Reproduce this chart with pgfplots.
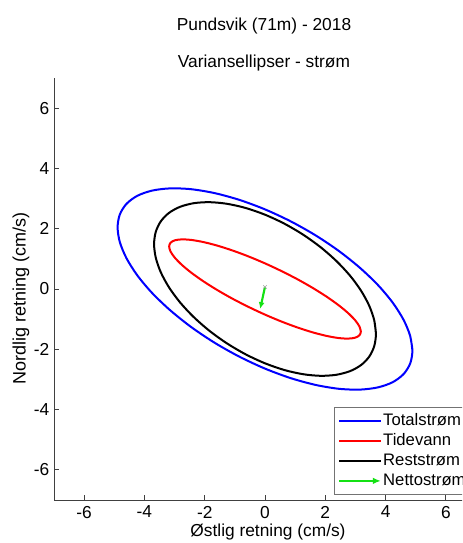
\documentclass[border=0pt]{standalone}
\usepackage{fontspec}
\setmainfont{Liberation Sans}
\usepackage{pgfplots}
\pgfplotsset{compat=1.18}
\usetikzlibrary{arrows.meta}
\definecolor{nettogreen}{RGB}{20,225,20}
\begin{document}
\begin{tikzpicture}
\useasboundingbox (0,0) rectangle (346.5pt,407.25pt);
\clip (0,0) rectangle (346.5pt,407.25pt);
\begin{axis}[
 at={(40.5pt,32.25pt)}, anchor=south west,
 scale only axis, width=316.5pt, height=316.5pt,
 xmin=-7,xmax=7,ymin=-7,ymax=7,
 axis x line*=bottom, axis y line*=left,
 axis line style={black!75, line width=0.6pt, -},
 xtick={-6,-4,-2,0,2,4,6}, ytick={-6,-4,-2,0,2,4,6},
 xticklabels={-6,-4,-2,0,2,4,6}, yticklabels={-6,-4,-2,0,2,4,6},
 tick align=inside, major tick length=3.4pt,
 tick style={black!75, line width=0.6pt},
 ticklabel style={font=\fontsize{13}{15}\selectfont},
 xticklabel style={yshift=-1pt},
 legend style={at={(axis description cs:0.6635,0.0135)}, anchor=south west,
   draw=black!55, line width=0.6pt, fill=white, inner sep=3pt, row sep=1.5pt,
   font=\fontsize{12.5}{14}\selectfont,
   nodes={inner sep=1pt, text height=9pt, text depth=2.5pt}},
 legend cell align=left,
 legend image code/.code={\draw[#1] (0pt,0pt) -- (31pt,0pt);},
]
\addplot[blue, line width=1.5pt, smooth] coordinates {
(4.89,-2.045) (4.816,-1.556) (4.595,-1.019) (4.235,-0.451) (3.746,0.132) (3.143,0.708)
(2.445,1.265) (1.672,1.783) (0.849,2.246) (0,2.641) (-0.849,2.956) (-1.672,3.181)
(-2.445,3.310) (-3.143,3.338) (-3.746,3.264) (-4.235,3.092) (-4.595,2.825) (-4.816,2.472)
(-4.89,2.045) (-4.816,1.556) (-4.595,1.019) (-4.235,0.451) (-3.746,-0.132) (-3.143,-0.708)
(-2.445,-1.265) (-1.672,-1.783) (-0.849,-2.246) (0,-2.641) (0.849,-2.956) (1.672,-3.181)
(2.445,-3.310) (3.143,-3.338) (3.746,-3.264) (4.235,-3.092) (4.595,-2.825) (4.816,-2.472)
(4.89,-2.045) (4.816,-1.556)
};
\addlegendentry{Totalstrøm}
\addplot[red, line width=1.5pt, smooth] coordinates {
(3.18,-1.41) (3.132,-1.241) (2.988,-1.034) (2.754,-0.796) (2.436,-0.534) (2.044,-0.255)
(1.59,0.031) (1.088,0.317) (0.552,0.592) (0,0.85) (-0.552,1.082) (-1.088,1.281)
(-1.59,1.441) (-2.044,1.557) (-2.436,1.626) (-2.754,1.646) (-2.988,1.616) (-3.132,1.537)
(-3.18,1.41) (-3.132,1.241) (-2.988,1.034) (-2.754,0.796) (-2.436,0.534) (-2.044,0.255)
(-1.59,-0.031) (-1.088,-0.317) (-0.552,-0.592) (0,-0.85) (0.552,-1.082) (1.088,-1.281)
(1.59,-1.441) (2.044,-1.557) (2.436,-1.626) (2.754,-1.646) (2.988,-1.616) (3.132,-1.537)
(3.18,-1.41) (3.132,-1.241)
};
\addlegendentry{Tidevann}
\addplot[black, line width=1.5pt, smooth] coordinates {
(3.68,-1.49) (3.624,-1.039) (3.458,-0.557) (3.187,-0.058) (2.819,0.444) (2.366,0.930)
(1.84,1.390) (1.259,1.806) (0.639,2.169) (0,2.465) (-0.639,2.687) (-1.259,2.826)
(-1.84,2.880) (-2.366,2.846) (-2.819,2.726) (-3.187,2.523) (-3.458,2.243) (-3.624,1.895)
(-3.68,1.49) (-3.624,1.039) (-3.458,0.557) (-3.187,0.058) (-2.819,-0.444) (-2.366,-0.930)
(-1.84,-1.390) (-1.259,-1.806) (-0.639,-2.169) (0,-2.465) (0.639,-2.687) (1.259,-2.826)
(1.84,-2.880) (2.366,-2.846) (2.819,-2.726) (3.187,-2.523) (3.458,-2.243) (3.624,-1.895)
(3.68,-1.49) (3.624,-1.039)
};
\addlegendentry{Reststrøm}
\addplot[nettogreen, line width=1.6pt, -{Latex[length=5pt,width=4.5pt]},
  legend image code/.code={\draw[nettogreen, line width=1.6pt, -{Latex[length=6pt,width=5pt]}] (0pt,0pt) -- (31pt,0pt);}]
  coordinates {(0,0.07) (-0.16,-0.66)};
\addlegendentry{Nettostrøm}
\addplot[only marks, mark=x, mark size=1.8pt, black!35, forget plot] coordinates {(0,0.07)};
\end{axis}
\node[font=\fontsize{13}{15}\selectfont] at (198pt,387.75pt) {Pundsvik (71m) - 2018};
\node[font=\fontsize{13}{15}\selectfont] at (198pt,360pt) {Variansellipser - strøm};
\node[font=\fontsize{13}{15}\selectfont] at (201pt,8pt) {Østlig retning (cm/s)};
\node[font=\fontsize{13.5}{15}\selectfont, rotate=90] at (15.75pt,183.5pt) {Nordlig retning (cm/s)};
\end{tikzpicture}
\end{document}
